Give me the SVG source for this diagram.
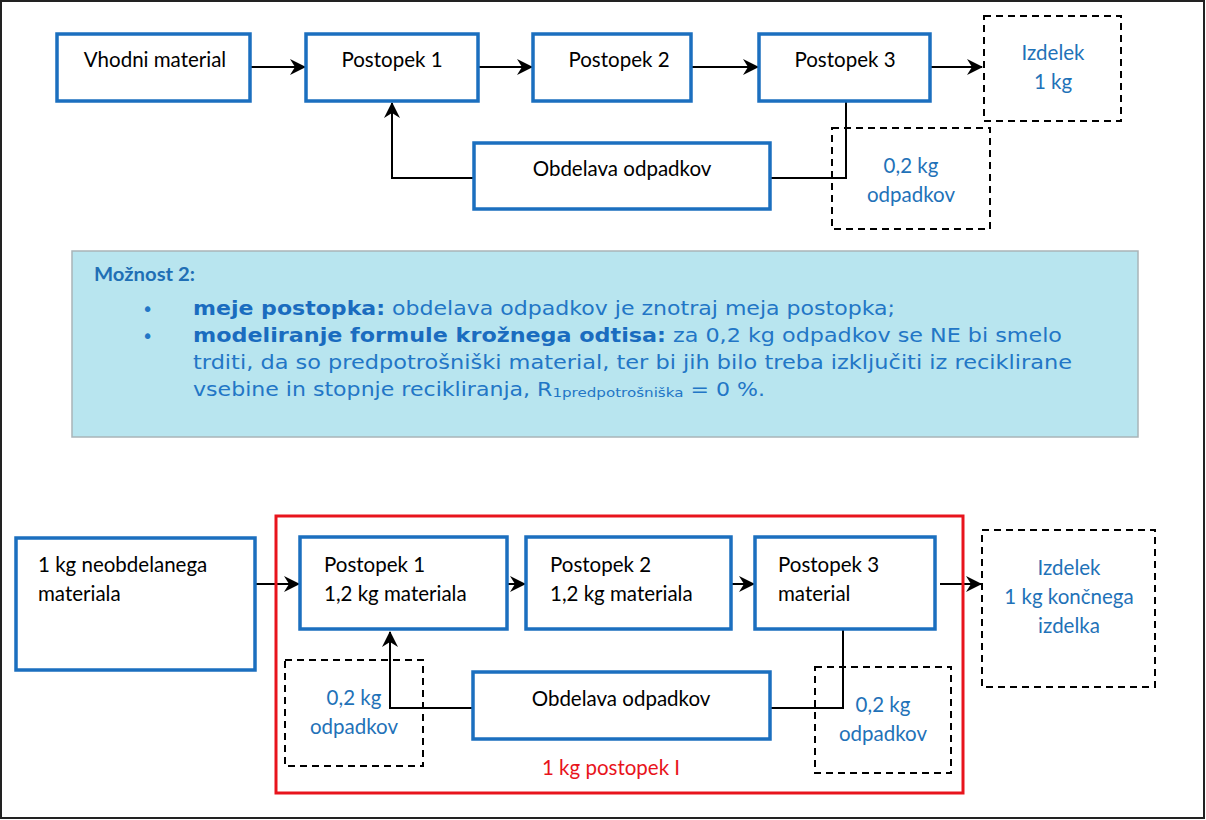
<svg xmlns="http://www.w3.org/2000/svg" width="1206" height="820" viewBox="0 0 1206 820">
<defs>
<marker id="ah" viewBox="0 0 16 16" refX="15" refY="8" markerWidth="16" markerHeight="16" markerUnits="userSpaceOnUse" orient="auto">
<path d="M0,0 L16,8 L0,16 L5,8 Z" fill="#000"/>
</marker>
<style>
.proc{fill:#fff;stroke:#1b6fbf;stroke-width:3.5}
.dash{fill:none;stroke:#000;stroke-width:2;stroke-dasharray:7,5}
.t{font-family:Lato,"Liberation Sans",sans-serif;font-size:20.5px;fill:#000}
.b{font-family:Lato,"Liberation Sans",sans-serif;font-size:20.5px;fill:#1f72b8}
.c{fill:none;stroke:#000;stroke-width:2}
.body{font-family:"DejaVu Sans",Verdana,sans-serif;font-size:19px;fill:#2276c6}
</style>
</defs>
<rect x="1" y="1" width="1203" height="817" fill="#fff" stroke="#222" stroke-width="2"/>

<g id="connectors">
<line class="c" x1="251" y1="67" x2="305" y2="67" marker-end="url(#ah)"/>
<line class="c" x1="479" y1="67" x2="532" y2="67" marker-end="url(#ah)"/>
<line class="c" x1="692" y1="67" x2="758" y2="67" marker-end="url(#ah)"/>
<line class="c" x1="930" y1="67" x2="982" y2="67" marker-end="url(#ah)"/>
<polyline class="c" points="474,178 392,178 392,103" marker-end="url(#ah)"/>
<polyline class="c" points="770,178 846,178 846,102"/>
<line class="c" x1="256" y1="584" x2="299" y2="584" marker-end="url(#ah)"/>
<line class="c" x1="483" y1="584" x2="525" y2="584" marker-end="url(#ah)"/>
<line class="c" x1="709" y1="584" x2="754" y2="584" marker-end="url(#ah)"/>
<line class="c" x1="940" y1="584" x2="981" y2="584" marker-end="url(#ah)"/>
<polyline class="c" points="473,708 390,708 390,632" marker-end="url(#ah)"/>
<polyline class="c" points="770,708 843,708 843,630"/>
</g>

<g id="vhodni"><rect class="proc" x="57" y="34" width="193" height="67"/><text class="t" x="155" y="67" text-anchor="middle">Vhodni material</text></g>
<g id="p1"><rect class="proc" x="306" y="34" width="172" height="67"/><text class="t" x="392" y="67" text-anchor="middle">Postopek 1</text></g>
<g id="p2"><rect class="proc" x="533" y="34" width="158" height="67"/><text class="t" x="619" y="67" text-anchor="middle">Postopek 2</text></g>
<g id="p3"><rect class="proc" x="759" y="34" width="171" height="67"/><text class="t" x="845" y="67" text-anchor="middle">Postopek 3</text></g>
<g id="izdelek1"><rect class="dash" x="984" y="16" width="137" height="105"/><text class="b" x="1053" y="60" text-anchor="middle">Izdelek</text><text class="b" x="1053" y="89" text-anchor="middle">1 kg</text></g>
<g id="obdelava1"><rect class="proc" x="474" y="143" width="296" height="66"/><text class="t" x="622" y="176" text-anchor="middle">Obdelava odpadkov</text></g>
<g id="odpadki1"><rect class="dash" x="832" y="128" width="158" height="101"/><text class="b" x="911" y="173" text-anchor="middle">0,2 kg</text><text class="b" x="911" y="202" text-anchor="middle">odpadkov</text></g>

<g id="info">
<rect x="72" y="251" width="1066" height="186" fill="#b8e5ef" stroke="#a9b4b8" stroke-width="1.5"/>
<text x="94" y="281" font-family="Lato,'Liberation Sans',sans-serif" font-size="18" font-weight="bold" fill="#1f6fb5" textLength="101" lengthAdjust="spacingAndGlyphs">Možnost 2:</text>
<text class="body" x="142" y="316">•</text>
<text class="body" x="142" y="343">•</text>
<text class="body" x="193" y="315" textLength="702" lengthAdjust="spacingAndGlyphs"><tspan font-weight="bold" fill="#1a6cbf">meje postopka:</tspan> obdelava odpadkov je znotraj meja postopka;</text>
<text class="body" x="193" y="342" textLength="869" lengthAdjust="spacingAndGlyphs"><tspan font-weight="bold" fill="#1a6cbf">modeliranje formule krožnega odtisa:</tspan> za 0,2 kg odpadkov se NE bi smelo</text>
<text class="body" x="193" y="369" textLength="879" lengthAdjust="spacingAndGlyphs">trditi, da so predpotrošniški material, ter bi jih bilo treba izključiti iz reciklirane</text>
<text class="body" x="193" y="396" textLength="572" lengthAdjust="spacingAndGlyphs">vsebine in stopnje recikliranja, R<tspan font-size="13" dy="1">1predpotrošniška</tspan><tspan dy="-1"> = 0 %.</tspan></text>
</g>

<g id="meja"><rect x="276" y="516" width="687" height="277" fill="none" stroke="#e8141c" stroke-width="3"/><text x="611" y="775" text-anchor="middle" font-family="Lato,'Liberation Sans',sans-serif" font-size="20.5" fill="#e8141c">1 kg postopek I</text></g>

<g id="vhod2"><rect class="proc" x="16" y="538" width="239" height="132"/><text class="t" x="38" y="572">1 kg neobdelanega</text><text class="t" x="38" y="601">materiala</text></g>
<g id="bp1"><rect class="proc" x="300" y="537" width="207" height="92"/><text class="t" x="324" y="572">Postopek 1</text><text class="t" x="324" y="601">1,2 kg materiala</text></g>
<g id="bp2"><rect class="proc" x="526" y="537" width="205" height="92"/><text class="t" x="550" y="572">Postopek 2</text><text class="t" x="550" y="601">1,2 kg materiala</text></g>
<g id="bp3"><rect class="proc" x="755" y="537" width="180" height="92"/><text class="t" x="778" y="572">Postopek 3</text><text class="t" x="778" y="601">material</text></g>
<g id="izdelek2"><rect class="dash" x="982" y="530" width="173" height="157"/><text class="b" x="1069" y="575" text-anchor="middle">Izdelek</text><text class="b" x="1069" y="604" text-anchor="middle">1 kg končnega</text><text class="b" x="1069" y="633" text-anchor="middle">izdelka</text></g>
<g id="odpadki2a"><rect class="dash" x="285" y="660" width="138" height="106"/><text class="b" x="354" y="705" text-anchor="middle">0,2 kg</text><text class="b" x="354" y="734" text-anchor="middle">odpadkov</text></g>
<g id="obdelava2"><rect class="proc" x="473" y="672" width="297" height="67"/><text class="t" x="621" y="706" text-anchor="middle">Obdelava odpadkov</text></g>
<g id="odpadki2b"><rect class="dash" x="815" y="667" width="136" height="106"/><text class="b" x="883" y="712" text-anchor="middle">0,2 kg</text><text class="b" x="883" y="741" text-anchor="middle">odpadkov</text></g>
</svg>
